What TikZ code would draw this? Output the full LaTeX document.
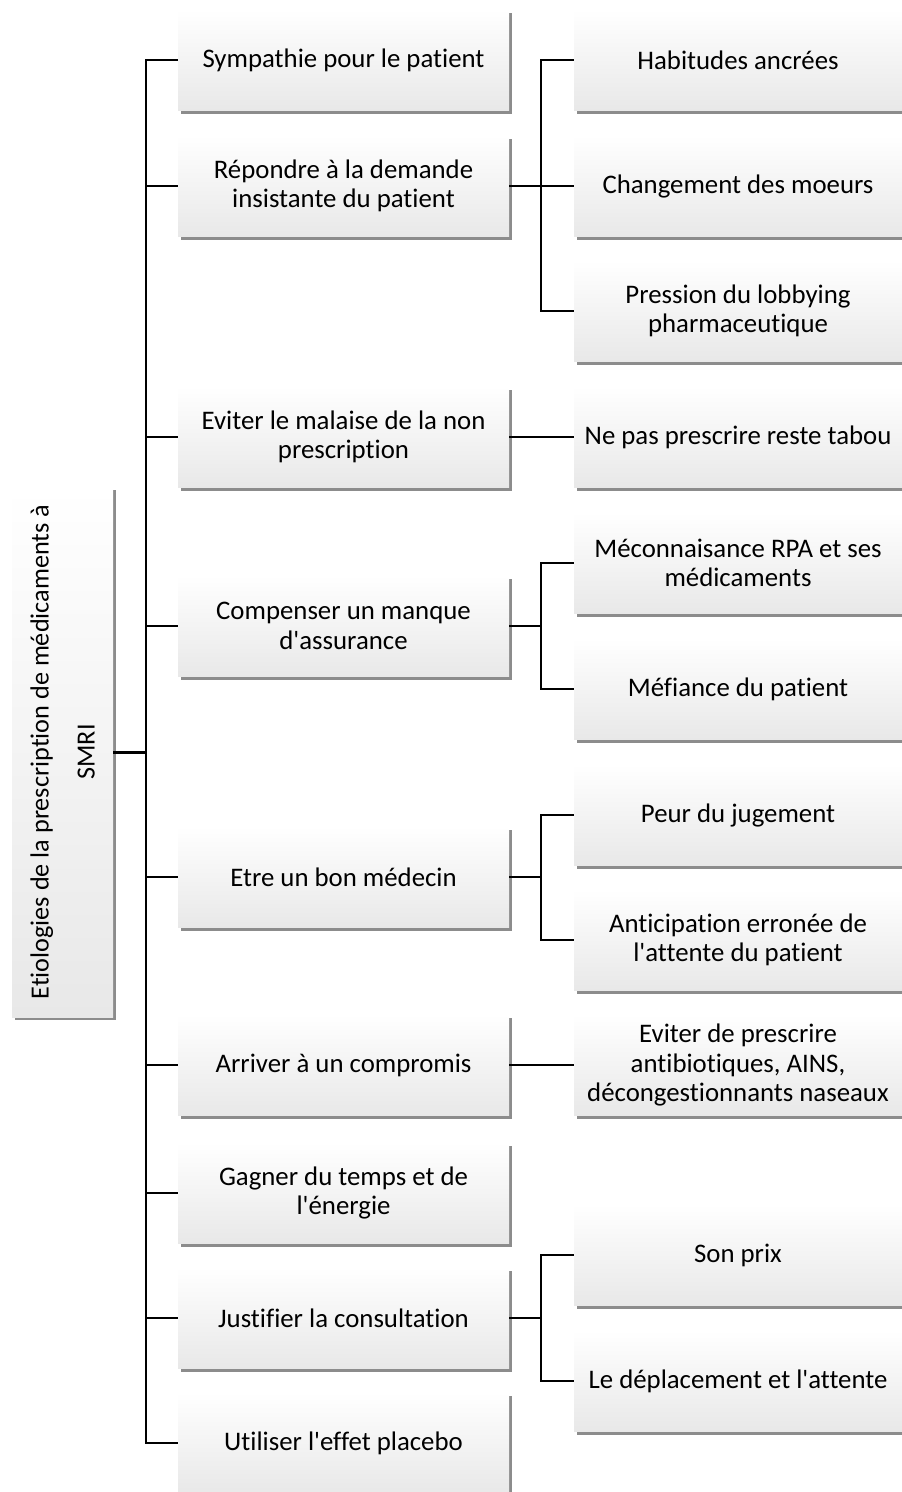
\documentclass[tikz,border=0pt]{standalone}
\usepackage{fontspec}
\setmainfont{Carlito}[Ligatures={NoCommon}]
\usetikzlibrary{shadows}
\newcommand{\apos}{\textquotesingle}
\begin{document}
\begin{tikzpicture}[x=1pt,y=-1pt,
  box/.style={rectangle, top color=white, bottom color=gray!18,
    drop shadow={shadow xshift=2.5pt, shadow yshift=-3pt, opacity=0.45, fill=black},
    align=center, font=\fontsize{26.8}{29.5}\selectfont, inner sep=0pt},
  l1/.style={box, minimum width=331pt, minimum height=101pt},
  l2/.style={box, minimum width=328pt, minimum height=101pt},
  conn/.style={line width=2pt},
  rootconn/.style={line width=3pt}]
\useasboundingbox (0,0) rectangle (902,1492);

% root
\node[box, minimum width=101pt, minimum height=530pt] (root) at (62.5,752)
  {\rotatebox{90}{\fontsize{26.2}{46}\selectfont\begin{tabular}{@{}c@{}}Etiologies de la prescription de médicaments à\\SMRI\end{tabular}}};

% level 1
\node[l1] (a1) at (343.5,60) {Sympathie pour le patient};
\node[l1] (a2) at (343.5,186) {Répondre à la demande\\insistante du patient};
\node[l1] (a3) at (343.5,437) {Eviter le malaise de la non\\prescription};
\node[l1] (a4) at (343.5,626) {Compenser un manque\\d\apos assurance};
\node[l1] (a5) at (343.5,877) {Etre un bon médecin};
\node[l1] (a6) at (343.5,1065) {Arriver à un compromis};
\node[l1] (a7) at (343.5,1193) {Gagner du temps et de\\l\apos énergie};
\node[l1] (a8) at (343.5,1318) {Justifier la consultation};
\node[l1] (a9) at (343.5,1443) {Utiliser l\apos effet placebo};

% level 2
\node[l2] (b1) at (738,60) {Habitudes ancrées};
\node[l2] (b2) at (738,186) {Changement des moeurs};
\node[l2] (b3) at (738,311) {Pression du lobbying\\pharmaceutique};
\node[l2] (b4) at (738,437) {Ne pas prescrire reste tabou};
\node[l2] (b5) at (738,563) {Méconnaisance RPA et ses\\médicaments};
\node[l2] (b6) at (738,689) {Méfiance du patient};
\node[l2] (b7) at (738,815) {Peur du jugement};
\node[l2] (b8) at (738,940) {Anticipation erronée de\\l\apos attente du patient};
\node[l2] (b9) at (738,1065) {Eviter de prescrire\\antibiotiques, AINS,\\décongestionnants naseaux};
\node[l2] (b10) at (738,1255) {Son prix};
\node[l2] (b11) at (738,1381) {Le déplacement et l\apos attente};

% connectors
\coordinate (trunk) at (146,752);
\draw[rootconn] (root.east) -- (trunk);
\foreach \n in {a1,a2,a3,a4,a5,a6,a7,a8,a9}
  \draw[conn] (trunk) |- (\n.west);

\coordinate (k2) at (541,186);
\draw[conn] (a2.east) -- (k2);
\foreach \n in {b1,b2,b3} \draw[conn] (k2) |- (\n.west);

\draw[conn] (a3.east) -- (b4.west);

\coordinate (k4) at (541,626);
\draw[conn] (a4.east) -- (k4);
\foreach \n in {b5,b6} \draw[conn] (k4) |- (\n.west);

\coordinate (k5) at (541,877);
\draw[conn] (a5.east) -- (k5);
\foreach \n in {b7,b8} \draw[conn] (k5) |- (\n.west);

\draw[conn] (a6.east) -- (b9.west);

\coordinate (k8) at (541,1318);
\draw[conn] (a8.east) -- (k8);
\foreach \n in {b10,b11} \draw[conn] (k8) |- (\n.west);
\end{tikzpicture}
\end{document}
